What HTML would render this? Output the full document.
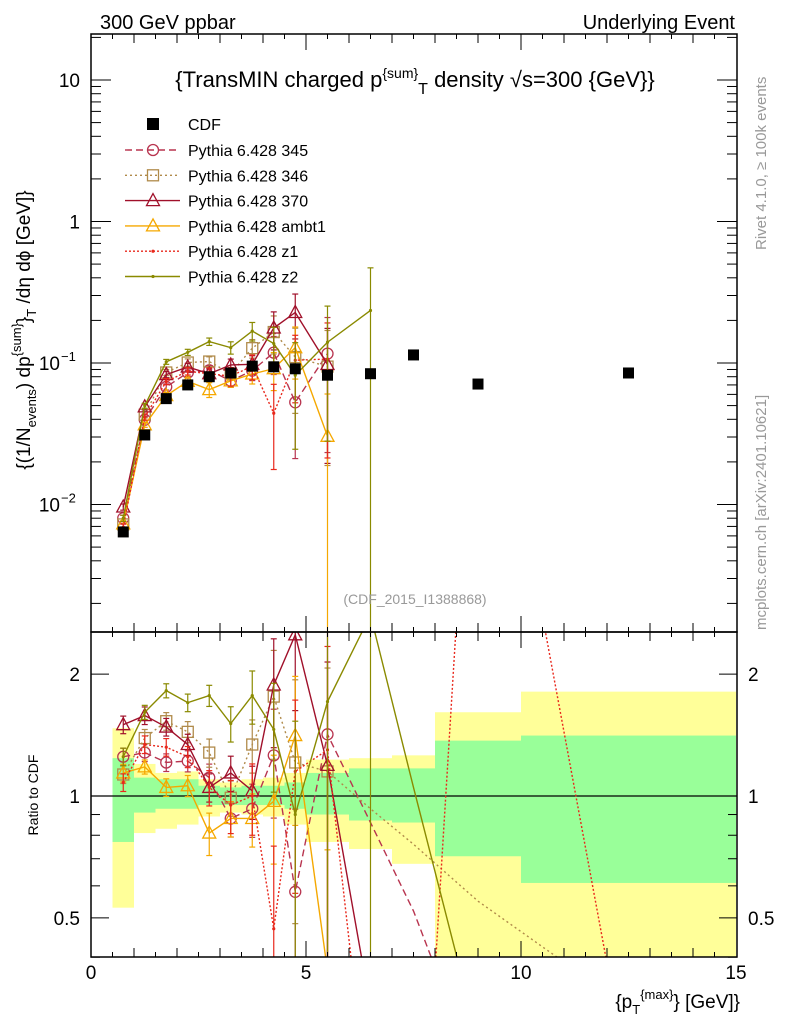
<!DOCTYPE html>
<html><head><meta charset="utf-8"><style>
html,body{margin:0;background:#fff;width:786px;height:1024px;overflow:hidden}
svg{display:block;font-family:"Liberation Sans",sans-serif}
</style></head><body>
<svg id="chart" width="786" height="1024" viewBox="0 0 786 1024">
<defs>
<clipPath id="cm"><rect x="91" y="34" width="646" height="598"/></clipPath>
<clipPath id="cr"><rect x="91" y="632" width="646" height="325"/></clipPath>
</defs>
<g id="bands" clip-path="url(#cr)"></g>
<g id="ratio" clip-path="url(#cr)"></g>
<g id="main" clip-path="url(#cm)"></g>
<g id="axes"></g>
<text x="100" y="29" font-size="20">300 GeV ppbar</text>
<text x="735" y="29" font-size="20" text-anchor="end">Underlying Event</text>
<text x="415" y="87" font-size="22" text-anchor="middle">{TransMIN charged p<tspan dy="-9" font-size="14">{sum}</tspan><tspan dy="16" font-size="16">T</tspan><tspan dy="-7"> density √s=300 {GeV}}</tspan></text>
<text x="415" y="604" font-size="14" fill="#999" text-anchor="middle">(CDF_2015_I1388868)</text>
<text transform="translate(766,250) rotate(-90)" font-size="15" fill="#999">Rivet 4.1.0, ≥ 100k events</text>
<text transform="translate(766,630) rotate(-90)" font-size="15" fill="#999">mcplots.cern.ch [arXiv:2401.10621]</text>
<text transform="translate(30,330) rotate(-90)" font-size="19" text-anchor="middle">{(1/N<tspan dy="6" font-size="13">events</tspan><tspan dy="-6">) dp</tspan><tspan dy="-9" font-size="13">{sum}</tspan><tspan dy="9">}</tspan><tspan dy="6" font-size="13">T</tspan><tspan dy="-6"> /dη  dϕ [GeV]}</tspan></text>
<text transform="translate(38,795) rotate(-90)" font-size="14" text-anchor="middle">Ratio to CDF</text>
<text x="740" y="1008" font-size="19" text-anchor="end">{p<tspan dy="6" font-size="13">T</tspan><tspan dy="-15" font-size="13">{max}</tspan><tspan dy="9">} [GeV]}</tspan></text>
<g id="legend"></g>
</svg>
<script>
const xs=[0.75,1.25,1.75,2.25,2.75,3.25,3.75,4.25,4.75,5.5];
const cdfX=[0.75,1.25,1.75,2.25,2.75,3.25,3.75,4.25,4.75,5.5,6.5,7.5,9,12.5];
const cdfY=[0.0064,0.031,0.056,0.070,0.080,0.085,0.095,0.094,0.091,0.082,0.084,0.114,0.071,0.085];
const binEdges=[0.5,1,1.5,2,2.5,3,3.5,4,4.5,5,6,7,8,10,15];
const yelHi=[1.47,1.20,1.14,1.15,1.10,1.08,1.10,1.11,1.14,1.23,1.24,1.26,1.61,1.81];
const grnHi=[1.24,1.11,1.10,1.10,1.06,1.05,1.06,1.06,1.08,1.14,1.17,1.17,1.37,1.41];
const grnLo=[0.77,0.91,0.93,0.93,0.95,0.95,0.95,0.95,0.93,0.90,0.87,0.86,0.71,0.61];
const yelLo=[0.53,0.81,0.83,0.85,0.89,0.91,0.90,0.89,0.85,0.77,0.74,0.68,0.30,0.30];
const r345=[1.25,1.28,1.21,1.22,1.11,0.88,0.93,1.26,0.58,1.42];
const r346=[1.13,1.39,1.53,1.44,1.28,0.99,1.34,1.76,1.21,1.15];
const r370=[1.50,1.58,1.48,1.34,1.05,1.14,1.03,1.88,2.5,1.19];
const rAmbt1=[1.14,1.18,1.05,1.06,0.81,0.88,0.88,0.97,1.41,0.37];
const rZ1=[1.08,1.34,1.32,1.25,1.05,0.95,1.0,0.47,1.15,1.3];
const rZ2=[1.25,1.61,1.82,1.70,1.77,1.51,1.77,1.46,0.90,1.71,2.8];
const e345=[0.05,0.05,0.05,0.06,0.08,0.1,0.15,0.3,0.6,0.8];
const e346=[0.05,0.05,0.05,0.06,0.08,0.1,0.15,0.3,0.6,0.8];
const e370=[0.05,0.05,0.05,0.06,0.08,0.1,0.15,0.3,0.35,0.8];
const eAmbt1=[0.05,0.04,0.05,0.06,0.12,0.1,0.15,0.3,0.4,0.99];
const eZ1=[0.05,0.05,0.05,0.06,0.1,0.15,0.2,0.6,0.5,0.8];
const eZ2=[0.05,0.04,0.04,0.05,0.06,0.1,0.15,0.3,0.7,0.8,1.0];
const extX=[6.5,7.5,9,12.5];
const ext345=[0.86,0.52,0.2,0.1];
const ext346=[0.93,0.76,0.55,0.3];
const ext370=[0.3,0.1,0.1,0.1];
const extZ1=[0.15,0.05,20,0.2];
const extZ2=[null,1.05,0.25,0.1];
const xTicks=[0,5,10,15];
const NS="http://www.w3.org/2000/svg";
const X=v=>91+v*43.0;
const YM=v=>363-141.5*Math.log10(v/0.1);
const YR=r=>796-405*Math.log10(r);
function el(t,a,p){const e=document.createElementNS(NS,t);for(const k in a)e.setAttribute(k,a[k]);p.appendChild(e);return e;}
const gB=document.getElementById('bands'),gR=document.getElementById('ratio'),gM=document.getElementById('main'),gA=document.getElementById('axes'),gL=document.getElementById('legend');
for(let i=0;i<yelHi.length;i++){
 const x0=X(binEdges[i]),x1=X(binEdges[i+1]);
 const a=el('rect',{x:x0,y:YR(yelHi[i]),width:x1-x0,height:YR(yelLo[i])-YR(yelHi[i]),fill:'#ffff99'},gB);
 
 
 const b=el('rect',{x:x0,y:YR(grnHi[i]),width:x1-x0,height:YR(grnLo[i])-YR(grnHi[i]),fill:'#99ff99'},gB);
 
 
}
el('line',{x1:91,x2:737,y1:YR(1),y2:YR(1),stroke:'#000','stroke-width':1.3},gB);
function marker(g,type,x,y,c){
 let m;
 if(type==='circle')m=el('circle',{cx:x,cy:y,r:5.5,fill:'none',stroke:c,'stroke-width':1.3},g);
 else if(type==='square')m=el('rect',{x:x-5.5,y:y-5.5,width:11,height:11,fill:'none',stroke:c,'stroke-width':1.3},g);
 else if(type==='tri')m=el('polygon',{points:`${x},${y-7} ${x-6.5},${y+5} ${x+6.5},${y+5}`,fill:'none',stroke:c,'stroke-width':1.3},g);
 else m=el('circle',{cx:x,cy:y,r:1.6,fill:c},g);
 return m;
}
const series=[
 {n:'Pythia 6.428 345',r:r345,e:e345,ext:ext345,c:'#b8344f',d:'7,4',m:'circle',k:'series-345'},
 {n:'Pythia 6.428 346',r:r346,e:e346,ext:ext346,c:'#b08a4a',d:'2,3',m:'square',k:'series-346'},
 {n:'Pythia 6.428 370',r:r370,e:e370,ext:ext370,c:'#a0102a',d:'',m:'tri',k:'series-370'},
 {n:'Pythia 6.428 ambt1',r:rAmbt1,e:eAmbt1,ext:null,c:'#f5a800',d:'',m:'tri',k:'series-ambt1'},
 {n:'Pythia 6.428 z1',r:rZ1,e:eZ1,ext:extZ1,c:'#e8281c',d:'2,2',m:'dot',k:'series-z1'},
 {n:'Pythia 6.428 z2',r:rZ2,e:eZ2,ext:extZ2,c:'#8a8a00',d:'',m:'dot',k:'series-z2'}];
series.forEach(s=>{
 const gm=el('g',{},gM);
 
 
 const gr=el('g',{},gR);
 
 
 const pm=[],pr=[];
 s.r.forEach((r,i)=>{const v=r*cdfY[i];pm.push([X(cdfX[i]),YM(v)]);pr.push([X(cdfX[i]),YR(r)]);});
 const pr2=pr.slice();
 if(s.ext)s.ext.forEach((r,i)=>{if(r!==null&&extX[i]>cdfX[s.r.length-1])pr2.push([X(extX[i]),YR(r)]);});
 el('polyline',{points:pm.map(p=>p.join(',')).join(' '),fill:'none',stroke:s.c,'stroke-width':1.4,'stroke-dasharray':s.d},gm);
 el('polyline',{points:pr2.map(p=>p.join(',')).join(' '),fill:'none',stroke:s.c,'stroke-width':1.4,'stroke-dasharray':s.d},gr);
 s.r.forEach((r,i)=>{
  const v=r*cdfY[i],e=s.e[i],x=X(cdfX[i]);
  const lo=Math.max(v*(1-e),1e-5),hi=v*(1+e);
  el('line',{x1:x,x2:x,y1:YM(lo),y2:YM(hi),stroke:s.c,'stroke-width':1.2},gm);
  el('line',{x1:x-3,x2:x+3,y1:YM(hi),y2:YM(hi),stroke:s.c,'stroke-width':1.2},gm);
  el('line',{x1:x-3,x2:x+3,y1:YM(lo),y2:YM(lo),stroke:s.c,'stroke-width':1.2},gm);
  const rl=Math.max(r*(1-e),1e-5),rh=r*(1+e);
  el('line',{x1:x,x2:x,y1:YR(rl),y2:YR(rh),stroke:s.c,'stroke-width':1.2},gr);
  el('line',{x1:x-3,x2:x+3,y1:YR(rh),y2:YR(rh),stroke:s.c,'stroke-width':1.2},gr);
  el('line',{x1:x-3,x2:x+3,y1:YR(rl),y2:YR(rl),stroke:s.c,'stroke-width':1.2},gr);
  const mm=marker(gm,s.m,x,YM(v),s.c);
  
  
  marker(gr,s.m,x,YR(r),s.c);
 });
});
cdfX.forEach((x,i)=>{
 const r=el('rect',{x:X(x)-5.5,y:YM(cdfY[i])-5.5,width:11,height:11,fill:'#000'},gM);
 
 
});
el('rect',{x:91,y:34,width:646,height:598,fill:'none',stroke:'#000','stroke-width':1.5},gA);
el('rect',{x:91,y:632,width:646,height:325,fill:'none',stroke:'#000','stroke-width':1.5},gA);
for(let v=0;v<=15;v+=0.5){
 const x=X(v),L=(v%5===0)?16:(v%1===0?9:5);
 if(v>0&&v<15){
  el('line',{x1:x,x2:x,y1:34,y2:34+L,stroke:'#000'},gA);
  el('line',{x1:x,x2:x,y1:632,y2:632-L,stroke:'#000'},gA);
  el('line',{x1:x,x2:x,y1:632,y2:632+L,stroke:'#000'},gA);
  el('line',{x1:x,x2:x,y1:957,y2:957-L,stroke:'#000'},gA);
 }
}
xTicks.forEach(v=>{const t=el('text',{x:X(v),y:979,'font-size':19,'text-anchor':'middle'},gA);t.textContent=v;
 
 });
for(let d=-3;d<=1;d++)for(let m=1;m<10;m++){
 const v=m*Math.pow(10,d),y=YM(v);if(y<34||y>632)continue;
 const L=m===1?20:10;
 el('line',{x1:91,x2:91+L,y1:y,y2:y,stroke:'#000'},gA);
 el('line',{x1:737,x2:737-L,y1:y,y2:y,stroke:'#000'},gA);
}
[['10',10],['1',1]].forEach(([s,v])=>{const t=el('text',{x:80,y:YM(v)+7,'font-size':19,'text-anchor':'end'},gA);t.textContent=s;
 
 });
[['−1',0.1],['−2',0.01]].forEach(([s,v])=>{const t=el('text',{x:60,y:YM(v)+7,'font-size':19,'text-anchor':'end'},gA);t.textContent='10';
 
 
 const u=el('text',{x:61,y:YM(v)-2,'font-size':13},gA);u.textContent=s;});
[0.4,0.5,0.6,0.7,0.8,0.9,1,2].forEach(r=>{const y=YR(r);const L=(r===0.5||r===1||r===2)?18:9;
 el('line',{x1:91,x2:91+L,y1:y,y2:y,stroke:'#000'},gA);el('line',{x1:737,x2:737-L,y1:y,y2:y,stroke:'#000'},gA);});
[['2',2],['1',1],['0.5',0.5]].forEach(([s,r])=>{
 const t=el('text',{x:80,y:YR(r)+7,'font-size':19,'text-anchor':'end'},gA);t.textContent=s;
 
 
 const u=el('text',{x:748,y:YR(r)+7,'font-size':19},gA);u.textContent=s;});
const lx=153,ly0=124;
const lr=el('rect',{x:lx-6,y:ly0-6,width:12,height:12,fill:'#000'},gL);
const lt=el('text',{x:188,y:ly0+6,'font-size':16},gL);lt.textContent='CDF';
series.forEach((s,i)=>{const y=ly0+26+i*25.3;
 el('line',{x1:125,x2:180,y1:y,y2:y,stroke:s.c,'stroke-width':1.4,'stroke-dasharray':s.d},gL);
 marker(gL,s.m,lx,y,s.c);
 const t=el('text',{x:188,y:y+6,'font-size':16},gL);t.textContent=s.n;
 
 });
</script>
</body></html>
